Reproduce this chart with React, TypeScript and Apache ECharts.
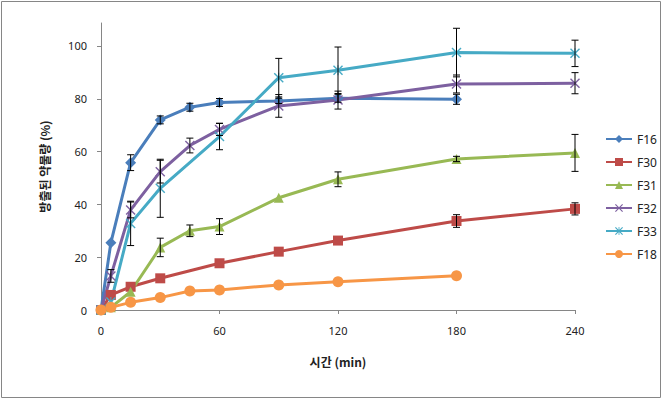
import React, { useEffect, useRef } from "react";
import * as echarts from "echarts";

const times = [0, 5, 15, 30, 45, 60, 90, 120, 180, 240];
const seriesNames = ["F16", "F30", "F31", "F32", "F33", "F18"];

const f16 = [0, 25.5, 55.8, 72, 76.8, 78.6, 79.2, 80.2, 79.8, null];
const f16Err = [0, 0, 3, 1.5, 1.5, 1.5, 1, 1.5, 1.9, null];
const f30 = [0, 5.7, 8.8, 12, null, 17.7, 22.1, 26.3, 33.7, 38.3];
const f30Err = [0, 0, 0, 0, null, 0, 0, 0, 2.4, 2.3];
const f31 = [0, 1, 6.9, 23.7, 30, 31.6, 42.5, 49.5, 57.2, 59.5];
const f31Err = [0, 0, 0, 3.5, 2.2, 3, 0, 2.8, 1, 7];
const f32 = [0, 12.9, 37.9, 52.4, 62.3, 68.4, 77.3, 79.5, 85.6, 85.9];
const f32Err = [0, 2.4, 3, 4.3, 2.8, 2.3, 4.3, 3.4, 3.4, 4];
const f33 = [0, 3, 32.8, 46.1, null, 65.7, 88, 90.8, 97.5, 97.2];
const f33Err = [0, 0, 8.4, 11, null, 5, 7.3, 8.8, 9.2, 5];
const f18 = [0, 1, 2.9, 4.7, 7.2, 7.6, 9.5, 10.7, 13, null];
const f18Err = [0, 0, 0, 0, 0, 0, 0, 0, 0, null];

const xTicks = [0, 60, 120, 180, 240];
const yTicks = [0, 20, 40, 60, 80, 100];

const colors = ["#4A7EBB", "#BE4B48", "#98B954", "#7D60A0", "#46AAC5", "#F79646"];
const X_PATH = "path://M0,1L1,0L5,4L9,0L10,1L6,5L10,9L9,10L5,6L1,10L0,9L4,5Z";
const STAR_PATH =
  "path://M0,1L1,0L5,4L9,0L10,1L6,5L10,9L9,10L5,6L1,10L0,9L4,5Z M4.5,0L5.5,0L5.5,10L4.5,10Z";
const symbols = ["diamond", "rect", "triangle", X_PATH, STAR_PATH, "circle"];
const symbolSizes = [11, 10, 10, 10, 10, 11];

const values = [f16, f30, f31, f32, f33, f18];
const errors = [f16Err, f30Err, f31Err, f32Err, f33Err, f18Err];

export default function App() {
  const ref = useRef<HTMLDivElement>(null);
  useEffect(() => {
    if (!ref.current) return;
    const chart = echarts.init(ref.current, undefined, { renderer: "svg" });

    const lineSeries: any[] = values.map((vals, i) => ({
      name: seriesNames[i],
      type: "line",
      data: times
        .map((t, j) => (vals[j] === null ? null : [t, vals[j]]))
        .filter((d) => d !== null),
      symbol: symbols[i],
      symbolSize: symbolSizes[i],
      lineStyle: { width: 3, color: colors[i] },
      itemStyle: { color: colors[i] },
      z: 2,
    }));

    const errSeries: any[] = values.map((vals, i) => ({
      name: seriesNames[i] + "_err",
      type: "custom",
      silent: true,
      z: 4,
      data: times
        .map((t, j) =>
          vals[j] === null || !errors[i][j] ? null : [t, vals[j], errors[i][j]]
        )
        .filter((d) => d !== null),
      renderItem: (params: any, api: any) => {
        const t = api.value(0);
        const v = api.value(1);
        const e = api.value(2);
        const hi = api.coord([t, v + e]);
        const lo = api.coord([t, v - e]);
        const w = 3.5;
        const style = { stroke: "#000", lineWidth: 1 };
        return {
          type: "group",
          children: [
            { type: "line", shape: { x1: hi[0], y1: hi[1], x2: lo[0], y2: lo[1] }, style },
            { type: "line", shape: { x1: hi[0] - w, y1: hi[1], x2: hi[0] + w, y2: hi[1] }, style },
            { type: "line", shape: { x1: lo[0] - w, y1: lo[1], x2: lo[0] + w, y2: lo[1] }, style },
          ],
        };
      },
    }));

    chart.setOption({
      animation: false,
      backgroundColor: "#fff",
      graphic: [
        {
          type: "rect",
          shape: { x: 1.5, y: 1.5, width: 659, height: 396 },
          style: { fill: "none", stroke: "#868686", lineWidth: 1 },
          silent: true,
        },
      ],
      grid: { left: 101, right: 89, top: 23, bottom: 90 },
      legend: {
        data: seriesNames,
        orient: "vertical",
        left: 600,
        top: 127,
        itemWidth: 26,
        itemHeight: 10,
        itemGap: 9,
        textStyle: { fontSize: 12, fontFamily: "Noto Sans", color: "#222", lineHeight: 14 },
      },
      xAxis: {
        type: "value",
        min: 0,
        max: 240,
        interval: 60,
        name: "시간 (min)",
        nameLocation: "middle",
        nameGap: 45,
        nameTextStyle: {
          fontSize: 12,
          fontWeight: "bold",
          fontFamily: "Noto Sans CJK KR",
          color: "#222",
        },
        axisLine: { show: true, lineStyle: { color: "#868686", width: 1 } },
        axisTick: { show: true, inside: false, length: 4, lineStyle: { color: "#868686" } },
        axisLabel: {
          fontSize: 11,
          fontFamily: "Noto Sans",
          color: "#222",
          margin: 15,
          customValues: xTicks,
        },
        splitLine: { show: false },
      },
      yAxis: {
        type: "value",
        min: 0,
        max: 108.7,
        interval: 20,
        name: "방출된 약물량 (%)",
        nameLocation: "middle",
        nameGap: 51,
        nameRotate: 90,
        nameTextStyle: {
          fontSize: 12,
          fontWeight: "bold",
          fontFamily: "Noto Sans CJK KR",
          color: "#222",
        },
        axisLine: { show: true, lineStyle: { color: "#868686", width: 1 } },
        axisTick: {
          show: true,
          inside: false,
          length: 4,
          lineStyle: { color: "#868686" },
          customValues: yTicks,
        },
        axisLabel: {
          fontSize: 11,
          fontFamily: "Noto Sans",
          color: "#222",
          margin: 14,
          customValues: yTicks,
        },
        splitLine: { show: false },
      },
      series: [...lineSeries, ...errSeries],
    });
    return () => chart.dispose();
  }, []);
  return (
    <div
      ref={ref}
      style={{ position: "fixed", left: 0, top: 0, width: 664, height: 400 }}
    />
  );
}
